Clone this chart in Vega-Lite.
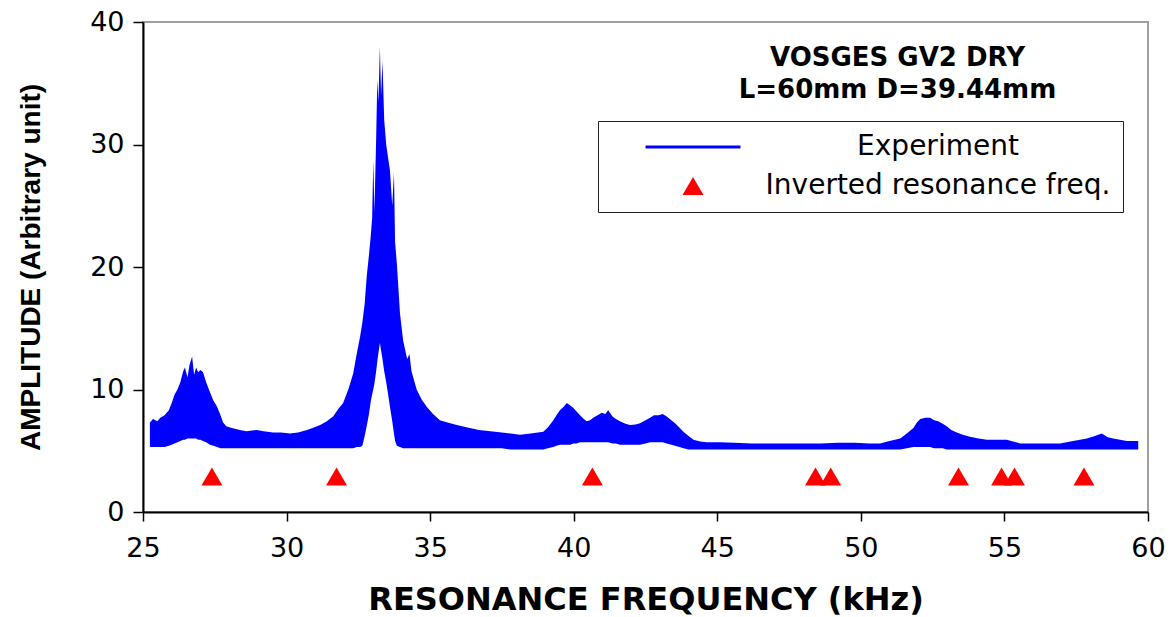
{
  "$schema": "https://vega.github.io/schema/vega-lite/v6.json",
  "width": 1005,
  "height": 490,
  "autosize": {"type": "none"},
  "padding": {"left": 143, "top": 22, "right": 26, "bottom": 105},
  "background": "white",
  "config": {
    "view": {"stroke": "#a0a0a0", "strokeWidth": 2},
    "axis": {"grid": false, "domainColor": "#000", "tickColor": "#000", "labelColor": "#000", "titleColor": "#000", "domainWidth": 2, "tickWidth": 1.5, "labelFlush": false}
  },
  "title": {
    "text": ["VOSGES GV2 DRY", "L=60mm D=39.44mm"],
    "font": "DejaVu Sans", "fontSize": 26, "fontWeight": "bold", "color": "#000",
    "anchor": "middle", "frame": "group", "baseline": "bottom",
    "offset": -121, "dx": 252, "lineHeight": 32
  },
  "datasets": {
    "exp": [
      {"f":25.24,"lo":5.3,"hi":7.3,"series":"Experiment"},
      {"f":25.35,"lo":5.3,"hi":7.6,"series":"Experiment"},
      {"f":25.5,"lo":5.3,"hi":7.4,"series":"Experiment"},
      {"f":25.6,"lo":5.3,"hi":7.7,"series":"Experiment"},
      {"f":25.75,"lo":5.3,"hi":7.9,"series":"Experiment"},
      {"f":25.9,"lo":5.4,"hi":8.3,"series":"Experiment"},
      {"f":26.0,"lo":5.5,"hi":8.9,"series":"Experiment"},
      {"f":26.1,"lo":5.6,"hi":9.6,"series":"Experiment"},
      {"f":26.2,"lo":5.7,"hi":10.0,"series":"Experiment"},
      {"f":26.3,"lo":5.8,"hi":10.6,"series":"Experiment"},
      {"f":26.4,"lo":5.9,"hi":11.5,"series":"Experiment"},
      {"f":26.46,"lo":5.9,"hi":11.8,"series":"Experiment"},
      {"f":26.55,"lo":6.0,"hi":11.0,"series":"Experiment"},
      {"f":26.62,"lo":6.0,"hi":12.0,"series":"Experiment"},
      {"f":26.71,"lo":6.0,"hi":12.7,"series":"Experiment"},
      {"f":26.78,"lo":6.0,"hi":11.2,"series":"Experiment"},
      {"f":26.85,"lo":6.0,"hi":11.8,"series":"Experiment"},
      {"f":26.92,"lo":5.9,"hi":11.4,"series":"Experiment"},
      {"f":27.0,"lo":5.9,"hi":11.6,"series":"Experiment"},
      {"f":27.09,"lo":5.8,"hi":11.4,"series":"Experiment"},
      {"f":27.2,"lo":5.7,"hi":10.6,"series":"Experiment"},
      {"f":27.33,"lo":5.5,"hi":9.8,"series":"Experiment"},
      {"f":27.45,"lo":5.4,"hi":9.1,"series":"Experiment"},
      {"f":27.58,"lo":5.3,"hi":8.6,"series":"Experiment"},
      {"f":27.7,"lo":5.2,"hi":7.9,"series":"Experiment"},
      {"f":27.79,"lo":5.2,"hi":7.3,"series":"Experiment"},
      {"f":27.9,"lo":5.2,"hi":7.0,"series":"Experiment"},
      {"f":28.03,"lo":5.2,"hi":6.9,"series":"Experiment"},
      {"f":28.2,"lo":5.2,"hi":6.8,"series":"Experiment"},
      {"f":28.38,"lo":5.2,"hi":6.7,"series":"Experiment"},
      {"f":28.6,"lo":5.2,"hi":6.6,"series":"Experiment"},
      {"f":28.97,"lo":5.2,"hi":6.7,"series":"Experiment"},
      {"f":29.2,"lo":5.2,"hi":6.6,"series":"Experiment"},
      {"f":29.53,"lo":5.2,"hi":6.5,"series":"Experiment"},
      {"f":29.8,"lo":5.2,"hi":6.5,"series":"Experiment"},
      {"f":30.12,"lo":5.2,"hi":6.4,"series":"Experiment"},
      {"f":30.4,"lo":5.2,"hi":6.5,"series":"Experiment"},
      {"f":30.71,"lo":5.2,"hi":6.7,"series":"Experiment"},
      {"f":30.95,"lo":5.2,"hi":6.9,"series":"Experiment"},
      {"f":31.17,"lo":5.2,"hi":7.1,"series":"Experiment"},
      {"f":31.4,"lo":5.2,"hi":7.4,"series":"Experiment"},
      {"f":31.62,"lo":5.2,"hi":7.8,"series":"Experiment"},
      {"f":31.8,"lo":5.2,"hi":8.4,"series":"Experiment"},
      {"f":31.97,"lo":5.2,"hi":8.9,"series":"Experiment"},
      {"f":32.15,"lo":5.2,"hi":10.0,"series":"Experiment"},
      {"f":32.32,"lo":5.2,"hi":11.3,"series":"Experiment"},
      {"f":32.45,"lo":5.3,"hi":13.0,"series":"Experiment"},
      {"f":32.56,"lo":5.3,"hi":14.3,"series":"Experiment"},
      {"f":32.64,"lo":5.4,"hi":15.5,"series":"Experiment"},
      {"f":32.72,"lo":6.2,"hi":17.0,"series":"Experiment"},
      {"f":32.79,"lo":7.0,"hi":19.2,"series":"Experiment"},
      {"f":32.87,"lo":8.0,"hi":21.0,"series":"Experiment"},
      {"f":32.93,"lo":9.0,"hi":22.5,"series":"Experiment"},
      {"f":32.98,"lo":9.6,"hi":24.0,"series":"Experiment"},
      {"f":33.02,"lo":10.0,"hi":28.7,"series":"Experiment"},
      {"f":33.06,"lo":10.5,"hi":24.5,"series":"Experiment"},
      {"f":33.12,"lo":11.5,"hi":30.5,"series":"Experiment"},
      {"f":33.16,"lo":12.3,"hi":35.3,"series":"Experiment"},
      {"f":33.2,"lo":13.0,"hi":33.5,"series":"Experiment"},
      {"f":33.25,"lo":13.8,"hi":38.0,"series":"Experiment"},
      {"f":33.29,"lo":13.2,"hi":34.0,"series":"Experiment"},
      {"f":33.34,"lo":12.5,"hi":36.8,"series":"Experiment"},
      {"f":33.4,"lo":11.5,"hi":32.0,"series":"Experiment"},
      {"f":33.47,"lo":10.6,"hi":30.0,"series":"Experiment"},
      {"f":33.53,"lo":9.7,"hi":29.0,"series":"Experiment"},
      {"f":33.6,"lo":8.6,"hi":27.9,"series":"Experiment"},
      {"f":33.68,"lo":7.4,"hi":25.0,"series":"Experiment"},
      {"f":33.74,"lo":6.4,"hi":27.7,"series":"Experiment"},
      {"f":33.78,"lo":5.8,"hi":22.0,"series":"Experiment"},
      {"f":33.84,"lo":5.4,"hi":20.3,"series":"Experiment"},
      {"f":33.95,"lo":5.3,"hi":16.2,"series":"Experiment"},
      {"f":34.06,"lo":5.2,"hi":14.0,"series":"Experiment"},
      {"f":34.2,"lo":5.2,"hi":12.5,"series":"Experiment"},
      {"f":34.28,"lo":5.2,"hi":12.9,"series":"Experiment"},
      {"f":34.35,"lo":5.2,"hi":11.5,"series":"Experiment"},
      {"f":34.53,"lo":5.2,"hi":10.0,"series":"Experiment"},
      {"f":34.7,"lo":5.2,"hi":9.2,"series":"Experiment"},
      {"f":34.88,"lo":5.2,"hi":8.6,"series":"Experiment"},
      {"f":35.1,"lo":5.2,"hi":8.0,"series":"Experiment"},
      {"f":35.34,"lo":5.2,"hi":7.5,"series":"Experiment"},
      {"f":35.6,"lo":5.2,"hi":7.3,"series":"Experiment"},
      {"f":35.93,"lo":5.2,"hi":7.1,"series":"Experiment"},
      {"f":36.3,"lo":5.2,"hi":6.9,"series":"Experiment"},
      {"f":36.7,"lo":5.2,"hi":6.7,"series":"Experiment"},
      {"f":37.1,"lo":5.2,"hi":6.6,"series":"Experiment"},
      {"f":37.5,"lo":5.2,"hi":6.5,"series":"Experiment"},
      {"f":37.8,"lo":5.1,"hi":6.4,"series":"Experiment"},
      {"f":38.13,"lo":5.1,"hi":6.3,"series":"Experiment"},
      {"f":38.5,"lo":5.1,"hi":6.4,"series":"Experiment"},
      {"f":38.94,"lo":5.1,"hi":6.55,"series":"Experiment"},
      {"f":39.1,"lo":5.2,"hi":6.9,"series":"Experiment"},
      {"f":39.29,"lo":5.3,"hi":7.5,"series":"Experiment"},
      {"f":39.4,"lo":5.4,"hi":7.9,"series":"Experiment"},
      {"f":39.52,"lo":5.5,"hi":8.3,"series":"Experiment"},
      {"f":39.65,"lo":5.5,"hi":8.6,"series":"Experiment"},
      {"f":39.76,"lo":5.5,"hi":8.9,"series":"Experiment"},
      {"f":39.88,"lo":5.5,"hi":8.7,"series":"Experiment"},
      {"f":39.99,"lo":5.6,"hi":8.5,"series":"Experiment"},
      {"f":40.1,"lo":5.6,"hi":8.2,"series":"Experiment"},
      {"f":40.22,"lo":5.7,"hi":7.9,"series":"Experiment"},
      {"f":40.35,"lo":5.7,"hi":7.6,"series":"Experiment"},
      {"f":40.45,"lo":5.7,"hi":7.4,"series":"Experiment"},
      {"f":40.57,"lo":5.7,"hi":7.5,"series":"Experiment"},
      {"f":40.68,"lo":5.7,"hi":7.7,"series":"Experiment"},
      {"f":40.83,"lo":5.7,"hi":7.9,"series":"Experiment"},
      {"f":40.98,"lo":5.7,"hi":8.1,"series":"Experiment"},
      {"f":41.1,"lo":5.7,"hi":8.0,"series":"Experiment"},
      {"f":41.2,"lo":5.7,"hi":8.3,"series":"Experiment"},
      {"f":41.35,"lo":5.6,"hi":7.8,"series":"Experiment"},
      {"f":41.47,"lo":5.6,"hi":7.6,"series":"Experiment"},
      {"f":41.61,"lo":5.5,"hi":7.4,"series":"Experiment"},
      {"f":41.8,"lo":5.5,"hi":7.2,"series":"Experiment"},
      {"f":41.96,"lo":5.5,"hi":7.1,"series":"Experiment"},
      {"f":42.15,"lo":5.5,"hi":7.15,"series":"Experiment"},
      {"f":42.31,"lo":5.5,"hi":7.25,"series":"Experiment"},
      {"f":42.5,"lo":5.6,"hi":7.5,"series":"Experiment"},
      {"f":42.66,"lo":5.7,"hi":7.7,"series":"Experiment"},
      {"f":42.8,"lo":5.7,"hi":7.9,"series":"Experiment"},
      {"f":42.95,"lo":5.7,"hi":7.9,"series":"Experiment"},
      {"f":43.1,"lo":5.7,"hi":8.0,"series":"Experiment"},
      {"f":43.24,"lo":5.6,"hi":7.8,"series":"Experiment"},
      {"f":43.4,"lo":5.5,"hi":7.5,"series":"Experiment"},
      {"f":43.53,"lo":5.4,"hi":7.25,"series":"Experiment"},
      {"f":43.68,"lo":5.3,"hi":6.9,"series":"Experiment"},
      {"f":43.82,"lo":5.2,"hi":6.55,"series":"Experiment"},
      {"f":44.0,"lo":5.1,"hi":6.2,"series":"Experiment"},
      {"f":44.17,"lo":5.1,"hi":5.9,"series":"Experiment"},
      {"f":44.4,"lo":5.1,"hi":5.75,"series":"Experiment"},
      {"f":44.63,"lo":5.1,"hi":5.7,"series":"Experiment"},
      {"f":45.1,"lo":5.1,"hi":5.7,"series":"Experiment"},
      {"f":45.6,"lo":5.1,"hi":5.65,"series":"Experiment"},
      {"f":46.2,"lo":5.1,"hi":5.6,"series":"Experiment"},
      {"f":46.8,"lo":5.1,"hi":5.6,"series":"Experiment"},
      {"f":47.4,"lo":5.1,"hi":5.6,"series":"Experiment"},
      {"f":48.0,"lo":5.1,"hi":5.6,"series":"Experiment"},
      {"f":48.6,"lo":5.1,"hi":5.6,"series":"Experiment"},
      {"f":49.2,"lo":5.1,"hi":5.65,"series":"Experiment"},
      {"f":49.8,"lo":5.1,"hi":5.65,"series":"Experiment"},
      {"f":50.3,"lo":5.1,"hi":5.6,"series":"Experiment"},
      {"f":50.67,"lo":5.1,"hi":5.6,"series":"Experiment"},
      {"f":51.0,"lo":5.1,"hi":5.8,"series":"Experiment"},
      {"f":51.37,"lo":5.1,"hi":6.0,"series":"Experiment"},
      {"f":51.6,"lo":5.2,"hi":6.4,"series":"Experiment"},
      {"f":51.83,"lo":5.3,"hi":6.85,"series":"Experiment"},
      {"f":51.95,"lo":5.3,"hi":7.3,"series":"Experiment"},
      {"f":52.07,"lo":5.3,"hi":7.6,"series":"Experiment"},
      {"f":52.25,"lo":5.3,"hi":7.7,"series":"Experiment"},
      {"f":52.41,"lo":5.3,"hi":7.7,"series":"Experiment"},
      {"f":52.55,"lo":5.2,"hi":7.5,"series":"Experiment"},
      {"f":52.69,"lo":5.2,"hi":7.4,"series":"Experiment"},
      {"f":52.85,"lo":5.2,"hi":7.2,"series":"Experiment"},
      {"f":52.99,"lo":5.1,"hi":7.0,"series":"Experiment"},
      {"f":53.15,"lo":5.1,"hi":6.7,"series":"Experiment"},
      {"f":53.34,"lo":5.1,"hi":6.5,"series":"Experiment"},
      {"f":53.55,"lo":5.1,"hi":6.3,"series":"Experiment"},
      {"f":53.8,"lo":5.1,"hi":6.15,"series":"Experiment"},
      {"f":54.1,"lo":5.1,"hi":6.0,"series":"Experiment"},
      {"f":54.39,"lo":5.1,"hi":5.9,"series":"Experiment"},
      {"f":54.75,"lo":5.1,"hi":5.9,"series":"Experiment"},
      {"f":55.08,"lo":5.1,"hi":5.9,"series":"Experiment"},
      {"f":55.3,"lo":5.1,"hi":5.75,"series":"Experiment"},
      {"f":55.55,"lo":5.1,"hi":5.6,"series":"Experiment"},
      {"f":56.24,"lo":5.1,"hi":5.6,"series":"Experiment"},
      {"f":56.94,"lo":5.1,"hi":5.6,"series":"Experiment"},
      {"f":57.39,"lo":5.1,"hi":5.8,"series":"Experiment"},
      {"f":57.87,"lo":5.1,"hi":6.0,"series":"Experiment"},
      {"f":58.15,"lo":5.1,"hi":6.2,"series":"Experiment"},
      {"f":58.39,"lo":5.1,"hi":6.4,"series":"Experiment"},
      {"f":58.6,"lo":5.1,"hi":6.1,"series":"Experiment"},
      {"f":58.79,"lo":5.1,"hi":6.0,"series":"Experiment"},
      {"f":59.26,"lo":5.1,"hi":5.8,"series":"Experiment"},
      {"f":59.66,"lo":5.1,"hi":5.8,"series":"Experiment"}
    ],
    "inv": [
      {"f":27.4,"a":2.9,"series":"Inverted resonance freq."},
      {"f":31.74,"a":2.9,"series":"Inverted resonance freq."},
      {"f":40.65,"a":2.9,"series":"Inverted resonance freq."},
      {"f":48.42,"a":2.9,"series":"Inverted resonance freq."},
      {"f":48.95,"a":2.9,"series":"Inverted resonance freq."},
      {"f":53.4,"a":2.9,"series":"Inverted resonance freq."},
      {"f":54.9,"a":2.9,"series":"Inverted resonance freq."},
      {"f":55.35,"a":2.9,"series":"Inverted resonance freq."},
      {"f":57.77,"a":2.9,"series":"Inverted resonance freq."}
    ]
  },
  "layer": [
    {
      "data": {"name": "exp"},
      "mark": {"type": "area", "opacity": 1, "interpolate": "linear"},
      "encoding": {
        "x": {"field": "f", "type": "quantitative",
          "scale": {"domain": [25, 60], "nice": false, "zero": false},
          "axis": {"values": [25, 30, 35, 40, 45, 50, 55, 60], "tickSize": 9, "labelFont": "DejaVu Sans", "labelFontSize": 27, "labelPadding": 14,
            "title": "RESONANCE FREQUENCY (kHz)", "titleFont": "DejaVu Sans", "titleFontSize": 32, "titleFontWeight": "bold", "titlePadding": 23}},
        "y": {"field": "hi", "type": "quantitative",
          "scale": {"domain": [0, 40], "nice": false},
          "axis": {"values": [0, 10, 20, 30, 40], "tickSize": 10, "labelFont": "DejaVu Sans", "labelFontSize": 27, "labelPadding": 9,
            "title": "AMPLITUDE (Arbitrary unit)", "titleFont": "Liberation Sans", "titleFontSize": 28, "titleFontWeight": "bold", "titlePadding": 44}},
        "y2": {"field": "lo"},
        "color": {"field": "series", "type": "nominal",
          "scale": {"domain": ["Experiment", "Inverted resonance freq."], "range": ["#0000ff", "#ff0000"]},
          "legend": {
            "title": null, "orient": "none", "legendX": 455, "legendY": 99,
            "strokeColor": "#222", "padding": 12, "rowPadding": 11,
            "labelFont": "DejaVu Sans", "labelFontSize": 28, "labelColor": "#000", "labelAlign": "center", "labelLimit": 0,
            "symbolSize": 441, "symbolStrokeWidth": 0, "symbolOpacity": 1,
            "symbolOffset": 69, "labelOffset": 231
          }
        }
      }
    },
    {
      "data": {"name": "inv"},
      "mark": {"type": "point", "filled": true, "size": 441, "opacity": 1, "strokeWidth": 0},
      "encoding": {
        "x": {"field": "f", "type": "quantitative"},
        "y": {"field": "a", "type": "quantitative"},
        "color": {"field": "series", "type": "nominal",
          "legend": {
            "title": null, "orient": "none", "legendX": 455, "legendY": 99,
            "strokeColor": "#222", "padding": 12, "rowPadding": 11,
            "labelFont": "DejaVu Sans", "labelFontSize": 28, "labelColor": "#000", "labelAlign": "center", "labelLimit": 0,
            "symbolSize": 441, "symbolStrokeWidth": 0, "symbolOpacity": 1,
            "symbolOffset": 69, "labelOffset": 231
          }},
        "shape": {"field": "series", "type": "nominal",
          "scale": {"domain": ["Experiment", "Inverted resonance freq."], "range": ["M-4.52,-0.143H4.52V0.143H-4.52Z", "triangle-up"]},
          "legend": {
            "title": null, "orient": "none", "legendX": 455, "legendY": 99,
            "strokeColor": "#222", "padding": 12, "rowPadding": 11,
            "labelFont": "DejaVu Sans", "labelFontSize": 28, "labelColor": "#000", "labelAlign": "center", "labelLimit": 0,
            "symbolSize": 441, "symbolStrokeWidth": 0, "symbolOpacity": 1,
            "symbolOffset": 69, "labelOffset": 231
          }}
      }
    }
  ]
}
